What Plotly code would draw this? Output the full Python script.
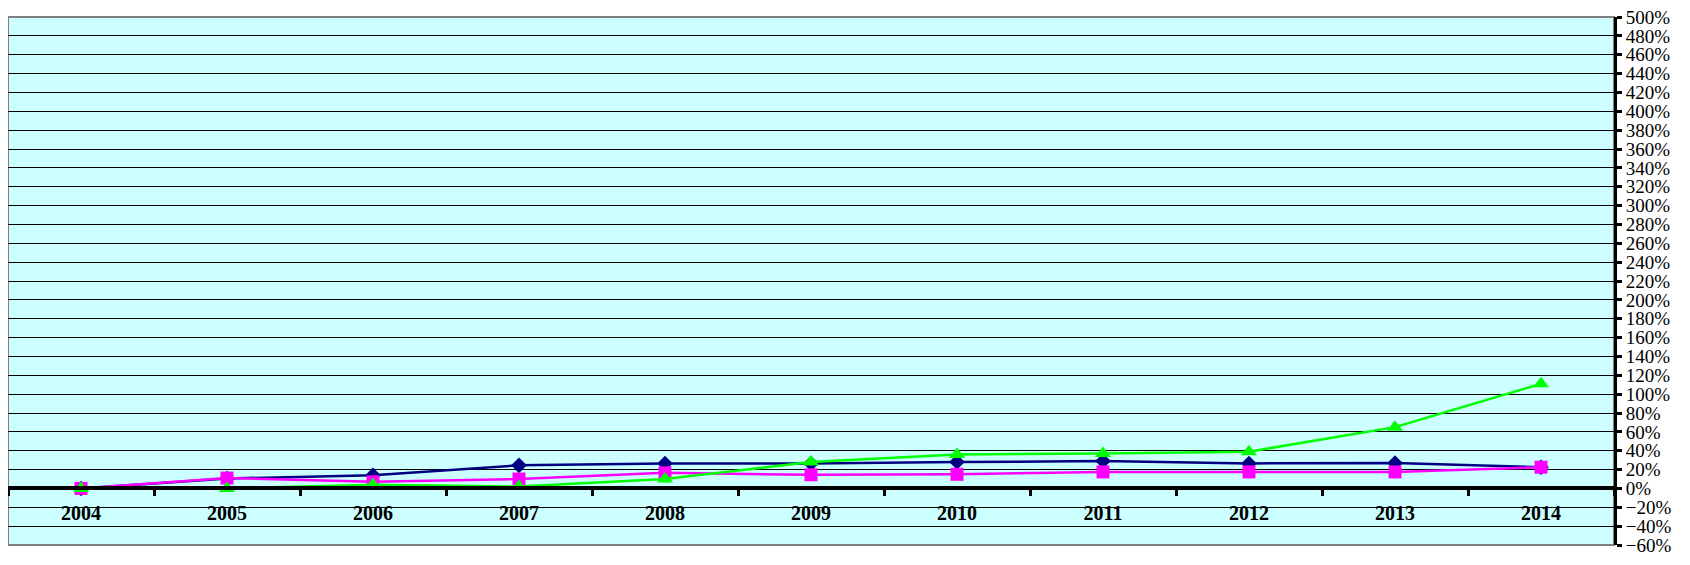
import plotly.graph_objects as go

years = ["2004", "2005", "2006", "2007", "2008", "2009", "2010", "2011", "2012", "2013", "2014"]
series_navy = [0, 10.5, 14, 24.5, 26.5, 26.5, 28, 29, 26.5, 27, 22.5]
series_magenta = [0, 11, 7, 10, 16.5, 14.5, 15, 17.5, 17.5, 17.5, 22.5]
series_green = [0, 0, 4, 2, 10, 28, 36, 37, 39, 65, 111]

y_min, y_max, y_step = -60, 500, 20

fig = go.Figure()
fig.add_trace(go.Scatter(x=years, y=series_navy, mode="lines+markers",
                         line=dict(color="#000080", width=2.5),
                         marker=dict(symbol="diamond", size=12, color="#000080")))
fig.add_trace(go.Scatter(x=years, y=series_magenta, mode="lines+markers",
                         line=dict(color="#FF00FF", width=2.5),
                         marker=dict(symbol="square", size=13, color="#FF00FF")))
fig.add_trace(go.Scatter(x=years, y=series_green, mode="lines+markers",
                         line=dict(color="#00FF00", width=2.5),
                         marker=dict(symbol="triangle-up", size=14, color="#00FF00")))

zero_pos = (0 - y_min) / (y_max - y_min)

fig.update_layout(
    width=1690, height=565,
    margin=dict(l=0, r=84, t=9, b=28),
    paper_bgcolor="white",
    plot_bgcolor="#CCFFFF",
    showlegend=False,
    font=dict(family="Liberation Serif", color="black"),
    xaxis=dict(
        type="category",
        range=[-0.5, len(years) - 0.5],
        anchor="free", position=zero_pos,
        automargin=False,
        showgrid=False, zeroline=False,
        showline=True, linecolor="black", linewidth=4,
        ticks="outside", tickson="boundaries", ticklen=6, tickwidth=3, tickcolor="black",
        tickfont=dict(family="Liberation Serif", size=20, color="black", weight="bold"),
        ticklabelstandoff=6,
    ),
    yaxis=dict(
        side="right",
        automargin=False,
        range=[y_min, y_max], dtick=y_step, tick0=0,
        ticksuffix="%",
        ticklabeloverflow="allow",
        showgrid=True, gridcolor="black", gridwidth=1,
        zeroline=False,
        showline=True, linecolor="black", linewidth=3,
        ticks="outside", ticklen=5, tickwidth=3, tickcolor="black",
        tickfont=dict(family="Liberation Serif", size=19, color="black"),
    ),
    shapes=[dict(type="rect", xref="paper", yref="paper", x0=0, x1=1, y0=0, y1=1,
                 line=dict(color="#808080", width=2), layer="below")],
)

fig.write_html("out.html")
